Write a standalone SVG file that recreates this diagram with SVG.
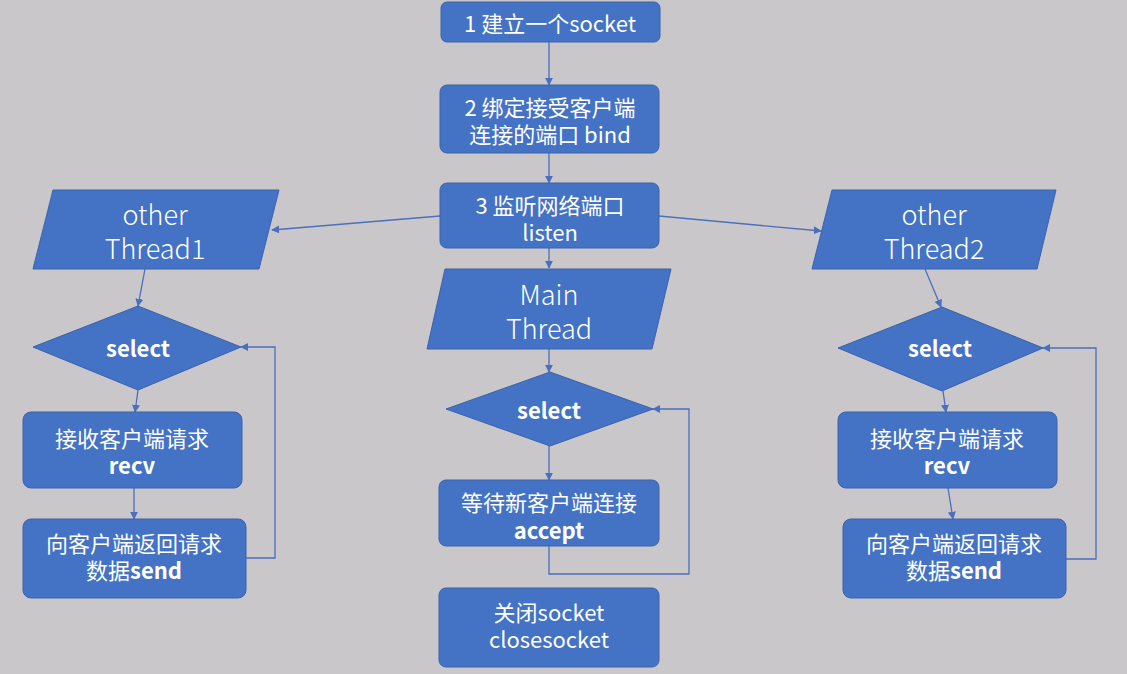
<svg xmlns="http://www.w3.org/2000/svg" width="1127" height="674" viewBox="0 0 1127 674">
<defs>
<marker id="ah" viewBox="0 0 10 10" refX="9" refY="5" markerWidth="8" markerHeight="8" markerUnits="userSpaceOnUse" orient="auto">
<path d="M0,0 L10,5 L0,10 z" fill="#4a6fbf"/>
</marker>
<style>
.bx{fill:#4472c4;stroke:#3a62ad;stroke-width:1}
.t{fill:#ffffff;font-family:"Noto Sans CJK SC","Microsoft YaHei",sans-serif;font-size:22px;text-anchor:middle;dominant-baseline:central}
.lt{font-size:27px;font-weight:300}
.b{font-weight:bold}
.ca{fill:none;stroke:#4a6fbf;stroke-width:1.3;marker-end:url(#ah)}
</style>
</defs>
<rect width="1127" height="674" fill="#c9c7c9"/>
<g id="connectors">
<line class="ca" x1="549" y1="42" x2="549" y2="85"/>
<line class="ca" x1="549" y1="153" x2="549" y2="183"/>
<line class="ca" x1="549" y1="248" x2="549" y2="268"/>
<line class="ca" x1="440" y1="216" x2="272" y2="230"/>
<line class="ca" x1="659" y1="216" x2="821" y2="231"/>
<line class="ca" x1="549" y1="349" x2="549" y2="372"/>
<line class="ca" x1="549" y1="446" x2="549" y2="480"/>
<polyline class="ca" points="549,546 549,574 689,574 689,409 653,409"/>
<line class="ca" x1="145" y1="269" x2="138" y2="306"/>
<line class="ca" x1="138" y1="390" x2="135" y2="412"/>
<line class="ca" x1="134" y1="488" x2="134" y2="519"/>
<polyline class="ca" points="246,558 275,558 275,347 241,347"/>
<line class="ca" x1="925" y1="269" x2="941" y2="307"/>
<line class="ca" x1="943" y1="391" x2="946" y2="412"/>
<line class="ca" x1="948" y1="488" x2="953" y2="519"/>
<polyline class="ca" points="1066,559 1096,559 1096,348 1043,348"/>
</g>
<g id="n1"><rect class="bx" x="441" y="2" width="219" height="40" rx="6"/><text class="t" x="550" y="22">1 建立一个socket</text></g>
<g id="n2"><rect class="bx" x="440" y="85" width="219" height="68" rx="7"/><text class="t" x="550" y="106">2 绑定接受客户端</text><text class="t" x="550" y="133">连接的端口 bind</text></g>
<g id="n3"><rect class="bx" x="440" y="183" width="219" height="65" rx="7"/><text class="t" x="550" y="204">3 监听网络端口</text><text class="t" x="550" y="231">listen</text></g>
<g id="mainThread"><polygon class="bx" points="445,269 671,269 652,349 427,349"/><text class="t lt" x="549" y="293">Main</text><text class="t lt" x="549" y="327">Thread</text></g>
<g id="mainSelect"><polygon class="bx" points="550,372 653,409 550,446 446,409"/><text class="t b" x="549" y="409">select</text></g>
<g id="accept"><rect class="bx" x="439" y="480" width="220" height="66" rx="7"/><text class="t" x="549" y="501">等待新客户端连接</text><text class="t b" x="549" y="529">accept</text></g>
<g id="close"><rect class="bx" x="439" y="588" width="220" height="79" rx="7"/><text class="t" x="549" y="611">关闭socket</text><text class="t" x="549" y="638">closesocket</text></g>
<g id="thread1"><polygon class="bx" points="53,190 279,190 259,269 33,269"/><text class="t lt" x="155" y="213">other</text><text class="t lt" x="155" y="247">Thread1</text></g>
<g id="select1"><polygon class="bx" points="138,306 241,347 138,390 33,347"/><text class="t b" x="138" y="347">select</text></g>
<g id="recv1"><rect class="bx" x="23" y="412" width="219" height="76" rx="8"/><text class="t" x="132" y="437">接收客户端请求</text><text class="t b" x="132" y="464">recv</text></g>
<g id="send1"><rect class="bx" x="23" y="519" width="223" height="79" rx="8"/><text class="t" x="134" y="542">向客户端返回请求</text><text class="t" x="134" y="569">数据<tspan class="b">send</tspan></text></g>
<g id="thread2"><polygon class="bx" points="832,190 1056,190 1037,269 812,269"/><text class="t lt" x="934" y="213">other</text><text class="t lt" x="934" y="247">Thread2</text></g>
<g id="select2"><polygon class="bx" points="942,307 1043,348 942,391 838,348"/><text class="t b" x="940" y="347">select</text></g>
<g id="recv2"><rect class="bx" x="838" y="412" width="219" height="76" rx="8"/><text class="t" x="947" y="437">接收客户端请求</text><text class="t b" x="947" y="464">recv</text></g>
<g id="send2"><rect class="bx" x="843" y="519" width="223" height="79" rx="8"/><text class="t" x="954" y="542">向客户端返回请求</text><text class="t" x="954" y="569">数据<tspan class="b">send</tspan></text></g>
</svg>
